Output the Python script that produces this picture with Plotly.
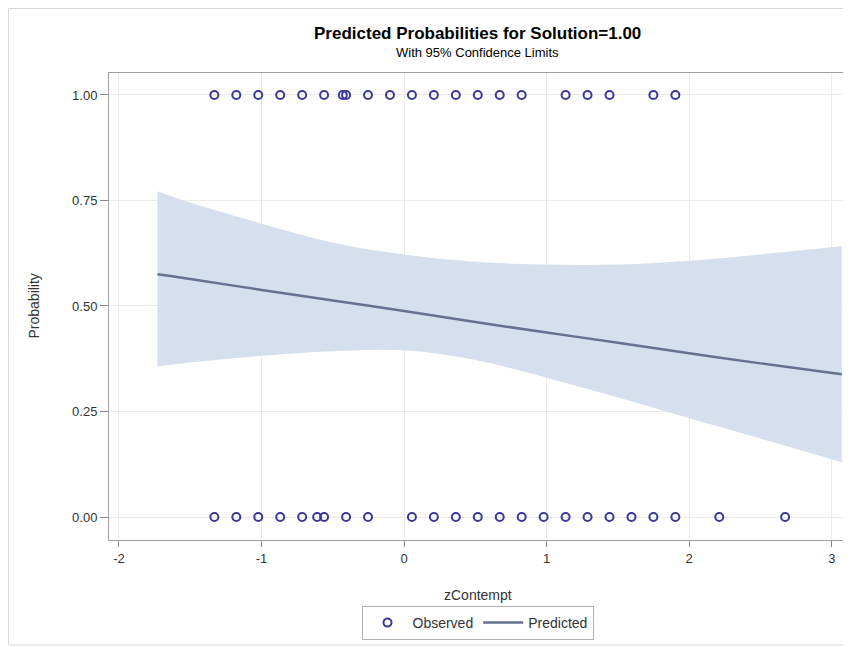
import plotly.graph_objects as go

# ---- data ----
curve_x = [-1.73, -1.5, -1.0, -0.5, 0.0, 0.5, 1.0, 1.5, 2.0, 2.5, 3.07]
predicted = [0.575, 0.564, 0.538, 0.513, 0.488, 0.462, 0.437, 0.413, 0.388, 0.364, 0.338]
upper_cl = [0.772, 0.745, 0.695, 0.650, 0.622, 0.605, 0.598, 0.598, 0.607, 0.622, 0.642]
lower_cl = [0.357, 0.366, 0.382, 0.393, 0.395, 0.372, 0.330, 0.283, 0.234, 0.186, 0.130]

obs1_x = [-1.331, -1.177, -1.023, -0.869, -0.715, -0.561, -0.43, -0.407, -0.253, -0.099,
          0.055, 0.209, 0.363, 0.517, 0.671, 0.825, 1.133, 1.287, 1.441, 1.749, 1.903]
obs0_x = [-1.331, -1.177, -1.023, -0.869, -0.715, -0.61, -0.561, -0.407, -0.253,
          0.055, 0.209, 0.363, 0.517, 0.671, 0.825, 0.979, 1.133, 1.287, 1.441, 1.595,
          1.749, 1.903, 2.211, 2.673]
obs_x = obs1_x + obs0_x
obs_y = [1.0] * len(obs1_x) + [0.0] * len(obs0_x)

x_ticks = [-2, -1, 0, 1, 2, 3]
x_tick_labels = ["-2", "-1", "0", "1", "2", "3"]
y_ticks = [0.0, 0.25, 0.5, 0.75, 1.0]

FONT = "Liberation Sans, Arial, sans-serif"
TXT = "#333333"

# figure sits inside the page body (8px default margin)
W, H = 843, 639
ML, MR, MT, MB = 101, 5, 65, 107
PW, PH = W - ML - MR, H - MT - MB


def py(px_from_fig_top):
    return (H - MB - px_from_fig_top) / PH


def px(px_from_fig_left):
    return (px_from_fig_left - ML) / PW


fig = go.Figure()
fig.add_trace(go.Scatter(x=curve_x, y=lower_cl, mode="lines", line=dict(width=0, shape="spline"),
                         showlegend=False, hoverinfo="skip"))
fig.add_trace(go.Scatter(x=curve_x, y=upper_cl, mode="lines", line=dict(width=0, shape="spline"),
                         fill="tonexty", fillcolor="rgb(214,223,238)", showlegend=False,
                         hoverinfo="skip"))
fig.add_trace(go.Scatter(x=obs_x, y=obs_y, mode="markers", name="Observed",
                         marker=dict(symbol="circle-open", size=8, color="#3a3a96",
                                     line=dict(width=2, color="#3a3a96"))))
fig.add_trace(go.Scatter(x=curve_x, y=predicted, mode="lines", name="Predicted",
                         line=dict(color="#66708f", width=2.5, shape="spline")))

fig.update_layout(
    width=W, height=H,
    margin=dict(l=ML, r=MR, t=MT, b=MB),
    paper_bgcolor="white", plot_bgcolor="white",
    font=dict(family=FONT, size=13, color=TXT),
    xaxis=dict(range=[-2.07, 3.1], tickvals=x_ticks, ticktext=x_tick_labels, ticks="outside",
               ticklen=6, tickcolor="#888888", showgrid=True, gridcolor="#ebebeb",
               zeroline=False, showline=True, linecolor="#a0a0a0", mirror=True,
               tickfont=dict(size=13, color=TXT)),
    yaxis=dict(range=[-0.0545, 1.052], tickvals=y_ticks, tickformat=".2f", ticks="outside",
               ticklen=8, tickcolor="#888888", showgrid=True, gridcolor="#ebebeb",
               zeroline=False, showline=True, linecolor="#a0a0a0", mirror=True,
               tickfont=dict(size=13, color=TXT)),
    legend=dict(orientation="h", x=0.5, xanchor="center", y=py(598), yanchor="top",
                traceorder="normal", bordercolor="#b0b0b0", borderwidth=1,
                font=dict(size=14, color=TXT), itemwidth=40,
                tracegroupgap=0),
    annotations=[
        dict(text="<b>Predicted Probabilities for Solution=1.00</b>", xref="paper", yref="paper",
             x=0.5, y=py(25), xanchor="center", yanchor="middle", showarrow=False,
             font=dict(family=FONT, size=17, color="black")),
        dict(text="With 95% Confidence Limits", xref="paper", yref="paper",
             x=0.5, y=py(45), xanchor="center", yanchor="middle", showarrow=False,
             font=dict(family=FONT, size=13, color="black")),
        dict(text="zContempt", xref="paper", yref="paper",
             x=0.5, y=py(587), xanchor="center", yanchor="middle", showarrow=False,
             font=dict(family=FONT, size=14, color=TXT)),
        dict(text="Probability", xref="paper", yref="paper", textangle=-90,
             x=px(25), y=0.5, xanchor="center", yanchor="middle", showarrow=False,
             font=dict(family=FONT, size=14, color=TXT)),
    ],
    shapes=[dict(type="rect", xref="paper", yref="paper",
                 x0=px(0.5), x1=px(W - 2), y0=py(H - 2), y1=py(0.5),
                 line=dict(color="#d9d9d9", width=1), fillcolor="rgba(0,0,0,0)", layer="below")],
)

fig.write_html("out.html")
